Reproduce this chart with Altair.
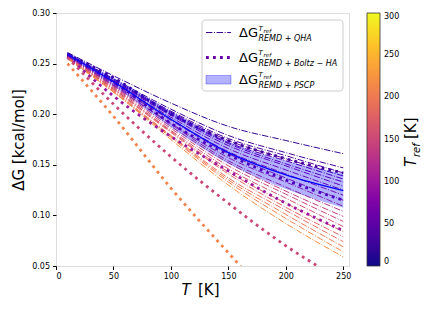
import altair as alt
import pandas as pd

# ---------------- data ----------------
T_grid = [10, 50, 100, 150, 200, 250]

# Delta G (REMD + QHA), one curve per reference temperature (dash-dot)
qha_tref = [20, 30, 40, 50, 60, 70, 80, 90, 100, 110, 120, 130, 140, 150, 160, 170, 180, 190, 200, 210, 220]
qha_values = [
    [0.261, 0.238, 0.211, 0.188, 0.174, 0.161],
    [0.260, 0.235, 0.205, 0.179, 0.162, 0.147],
    [0.260, 0.234, 0.203, 0.176, 0.159, 0.142],
    [0.260, 0.233, 0.202, 0.174, 0.156, 0.139],
    [0.259, 0.233, 0.201, 0.172, 0.154, 0.136],
    [0.259, 0.233, 0.200, 0.171, 0.151, 0.133],
    [0.259, 0.232, 0.199, 0.169, 0.149, 0.129],
    [0.258, 0.231, 0.197, 0.166, 0.145, 0.125],
    [0.258, 0.230, 0.195, 0.163, 0.141, 0.120],
    [0.258, 0.229, 0.194, 0.161, 0.137, 0.115],
    [0.257, 0.228, 0.191, 0.157, 0.133, 0.109],
    [0.257, 0.228, 0.190, 0.154, 0.128, 0.104],
    [0.257, 0.227, 0.188, 0.152, 0.124, 0.099],
    [0.256, 0.226, 0.186, 0.149, 0.121, 0.094],
    [0.256, 0.225, 0.184, 0.146, 0.117, 0.089],
    [0.256, 0.225, 0.183, 0.143, 0.112, 0.084],
    [0.256, 0.224, 0.182, 0.141, 0.108, 0.079],
    [0.255, 0.223, 0.179, 0.137, 0.105, 0.074],
    [0.255, 0.222, 0.178, 0.135, 0.101, 0.069],
    [0.255, 0.222, 0.177, 0.133, 0.097, 0.064],
    [0.255, 0.222, 0.175, 0.130, 0.092, 0.059],
]

# Delta G (REMD + Boltz-HA), dotted
boltz_tref = [30, 60, 100, 150, 210]
boltz_T = [
    [10, 50, 100, 150, 200, 250],
    [10, 50, 100, 150, 200, 250],
    [10, 50, 100, 150, 200, 250],
    [10, 50, 100, 150, 200, 250],
    [10, 50, 100, 150, 170],
]
boltz_values = [
    [0.259, 0.236, 0.200, 0.174, 0.156, 0.142],
    [0.258, 0.232, 0.191, 0.160, 0.135, 0.115],
    [0.257, 0.218, 0.178, 0.144, 0.112, 0.085],
    [0.256, 0.210, 0.158, 0.112, 0.070, 0.035],
    [0.250, 0.198, 0.127, 0.063, 0.038],
]

# Delta G (REMD + PSCP): band and central curve
pscp_mid = [0.259, 0.232, 0.195, 0.162, 0.140, 0.1245]
pscp_low = [0.257, 0.228, 0.187, 0.151, 0.126, 0.1075]
pscp_high = [0.261, 0.236, 0.203, 0.173, 0.154, 0.1415]

x_ticks = [0, 50, 100, 150, 200, 250]
y_ticks = [0.05, 0.10, 0.15, 0.20, 0.25, 0.30]
cbar_ticks = [0, 50, 100, 150, 200, 250, 300]

y_title = "ΔG [kcal/mol]"
x_title_parts = ["T", "[K]"]
cbar_title_parts = ["T", "ref", "[K]"]
legend_subs = ["REMD + QHA", "REMD + Boltz − HA", "REMD + PSCP"]

# ---------------- tables ----------------
qha_rows = []
for tr, vals in zip(qha_tref, qha_values):
    for t, v in zip(T_grid, vals):
        qha_rows.append({"T": t, "dG": v, "T_ref": tr})
qha_df = pd.DataFrame(qha_rows)

boltz_rows = []
for tr, ts, vals in zip(boltz_tref, boltz_T, boltz_values):
    for t, v in zip(ts, vals):
        boltz_rows.append({"T": t, "dG": v, "T_ref": tr})
boltz_df = pd.DataFrame(boltz_rows)

pscp_df = pd.DataFrame({"T": T_grid, "mid": pscp_mid, "lo": pscp_low, "hi": pscp_high})

FONT = "DejaVu Sans"
W, H = 293, 253

xscale = alt.Scale(domain=[0, 255], nice=False, zero=False)
yscale = alt.Scale(domain=[0.05, 0.30], nice=False, zero=False)
cscale = alt.Scale(scheme="plasma", domain=[0, 300])

x_enc = alt.X("T:Q", scale=xscale,
              axis=alt.Axis(values=x_ticks, title=None, format="d", grid=False, domain=False,
                            tickSize=3.5, tickColor="black", labelFontSize=8, labelColor="black",
                            labelPadding=3, labelFont=FONT))
y_enc = alt.Y("dG:Q", scale=yscale,
              axis=alt.Axis(values=y_ticks, format=".2f", title=y_title, grid=False, domain=False,
                            tickSize=3.5, tickColor="black", labelFontSize=8, labelColor="black",
                            labelPadding=3, labelFont=FONT, titleFont=FONT, titleFontSize=15,
                            titleFontWeight="normal", titleColor="black", titlePadding=5))

color_enc = alt.Color("T_ref:Q", scale=cscale,
                      legend=alt.Legend(orient="none", legendX=311, legendY=0, direction="vertical",
                                        gradientLength=H, gradientThickness=13, title=None,
                                        values=cbar_ticks, labelFontSize=8, labelFont=FONT,
                                        labelColor="black", labelOffset=4, labelBaseline="middle",
                                        gradientStrokeColor="#333333", gradientStrokeWidth=0.8))

qha = alt.Chart(qha_df).mark_line(strokeWidth=1, strokeDash=[6.4, 1.6, 1, 1.6], clip=True,
                                  interpolate="monotone").encode(
    x=x_enc, y=y_enc, color=color_enc, detail="T_ref:N", order="T:Q")

boltz = alt.Chart(boltz_df).mark_line(strokeWidth=2.8, strokeDash=[2.8, 4.2], clip=True,
                                      interpolate="monotone").encode(
    x=x_enc, y=y_enc, color=color_enc, detail="T_ref:N", order="T:Q")

band = alt.Chart(pscp_df).mark_area(color="blue", opacity=0.3, interpolate="monotone", clip=True).encode(
    x=alt.X("T:Q", scale=xscale), y=alt.Y("lo:Q", scale=yscale), y2="hi:Q")

mid = alt.Chart(pscp_df).mark_line(color="blue", strokeWidth=1.2, interpolate="monotone", clip=True).encode(
    x=alt.X("T:Q", scale=xscale), y=alt.Y("mid:Q", scale=yscale))

one = pd.DataFrame({"k": [0]})


def txt(s, x, y, size, style="normal", angle=0):
    return alt.Chart(pd.DataFrame({"t": [s]})).mark_text(
        align="left", baseline="alphabetic", font=FONT, fontSize=size, fontStyle=style,
        color="black", angle=angle).encode(x=alt.value(x), y=alt.value(y), text="t:N")


# legend box
box = alt.Chart(one).mark_rect(fill="white", fillOpacity=0.8, stroke="#cccccc", strokeWidth=1,
                               cornerRadius=3).encode(
    x=alt.value(146), x2=alt.value(287), y=alt.value(7), y2=alt.value(78))
h1 = alt.Chart(one).mark_rule(color="#3d049b", strokeWidth=1, strokeDash=[6.4, 1.6, 1, 1.6]).encode(
    x=alt.value(150), x2=alt.value(175), y=alt.value(19.5))
h2 = alt.Chart(one).mark_rule(color="#6a00a8", strokeWidth=2.8, strokeDash=[2.8, 4.2]).encode(
    x=alt.value(150), x2=alt.value(175), y=alt.value(44.5))
h3 = alt.Chart(one).mark_rect(fill="blue", fillOpacity=0.3, stroke="blue", strokeOpacity=0.3).encode(
    x=alt.value(150), x2=alt.value(175), y=alt.value(62.5), y2=alt.value(71))

legend_layers = [box, h1, h2, h3]
for base, sub in zip([24, 48.5, 70.5], legend_subs):
    legend_layers += [
        txt("ΔG", 183, base, 13),
        txt("T", 202.5, base - 6.3, 7, "italic"),
        txt("ref", 207.5, base - 4.3, 5.5, "italic"),
        txt(sub, 202.5, base + 4.3, 8, "italic"),
    ]

x_title = [txt(x_title_parts[0], 125.5, 281.5, 15, "italic"),
           txt(x_title_parts[1], 142, 281.5, 15)]
cbar_title = [txt(cbar_title_parts[0], 360, 154, 15, "italic", 270),
              txt(cbar_title_parts[1], 364, 144, 10, "italic", 270),
              txt(cbar_title_parts[2], 360, 126, 15, "normal", 270)]

chart = alt.layer(qha, boltz, band, mid, *legend_layers, *x_title, *cbar_title).properties(
    width=W, height=H,
    padding={"left": 48, "top": 5, "right": 72, "bottom": 38},
    autosize=alt.AutoSizeParams(type="none"),
).configure_view(stroke="#333333", strokeWidth=1).configure(font=FONT)

chart.save("out.html", embed_options={"renderer": "svg", "actions": False})
